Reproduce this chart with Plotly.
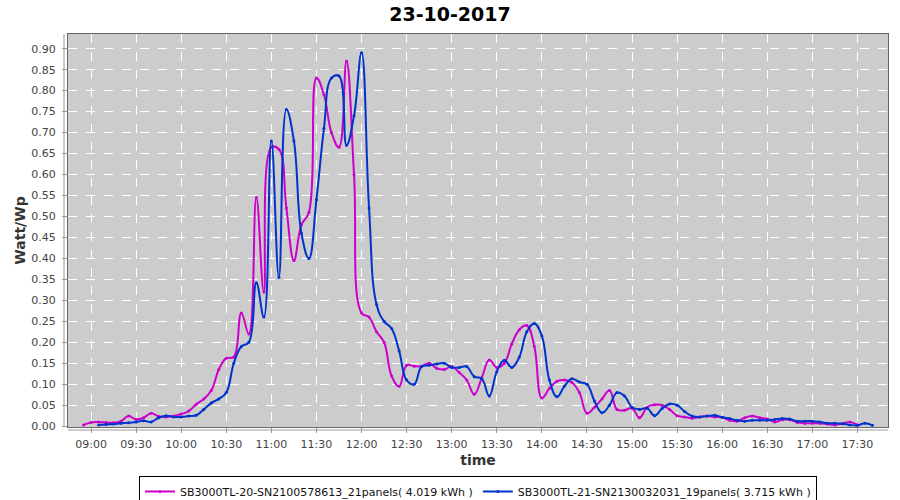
import pandas as pd
import plotly.graph_objects as go

# ---- data (Watt/Wp, 5-minute samples) ---------------------------------------
DAY = "2017-10-23"
TITLE = "23-10-2017"

NAME_A = "SB3000TL-20-SN2100578613_21panels( 4.019 kWh )"
START_A = "08:55"
VALS_A = [
    0.003, 0.009, 0.010, 0.009, 0.008, 0.012, 0.024, 0.016, 0.020, 0.031,
    0.023, 0.022, 0.024, 0.029, 0.036, 0.052, 0.065, 0.085, 0.135, 0.162,
    0.165, 0.270, 0.220, 0.545, 0.320, 0.665, 0.660, 0.520, 0.395, 0.480,
    0.510, 0.830, 0.790, 0.700, 0.665, 0.870, 0.600, 0.270, 0.260, 0.225,
    0.200, 0.120, 0.095, 0.145, 0.143, 0.143, 0.150, 0.138, 0.135, 0.142,
    0.128, 0.110, 0.076, 0.115, 0.158, 0.140, 0.150, 0.196, 0.230, 0.240,
    0.190, 0.067, 0.090, 0.107, 0.110, 0.104, 0.080, 0.031, 0.045, 0.065,
    0.085, 0.040, 0.038, 0.043, 0.020, 0.045, 0.051, 0.050, 0.040, 0.025,
    0.022, 0.019, 0.022, 0.024, 0.022, 0.021, 0.014, 0.012, 0.020, 0.024,
    0.020, 0.017, 0.010, 0.015, 0.015, 0.009, 0.007, 0.007, 0.007, 0.005,
    0.003, 0.006, 0.010, 0.003,
]

NAME_B = "SB3000TL-21-SN2130032031_19panels( 3.715 kWh )"
START_B = "09:05"
VALS_B = [
    0.003, 0.004, 0.005, 0.007, 0.008, 0.010, 0.013, 0.010, 0.020, 0.025,
    0.022, 0.022, 0.024, 0.026, 0.040, 0.055, 0.065, 0.080, 0.150, 0.190,
    0.200, 0.342, 0.260, 0.680, 0.355, 0.755, 0.680, 0.460, 0.400, 0.540,
    0.710, 0.830, 0.835, 0.670, 0.740, 0.890, 0.520, 0.290, 0.250, 0.233,
    0.180, 0.110, 0.100, 0.142, 0.145, 0.148, 0.150, 0.140, 0.140, 0.142,
    0.118, 0.113, 0.072, 0.130, 0.157, 0.140, 0.165, 0.225, 0.245, 0.215,
    0.110, 0.070, 0.095, 0.113, 0.105, 0.100, 0.060, 0.032, 0.050, 0.080,
    0.072, 0.045, 0.040, 0.043, 0.025, 0.042, 0.053, 0.050, 0.035, 0.024,
    0.022, 0.024, 0.026, 0.021, 0.018, 0.014, 0.012, 0.014, 0.014, 0.014,
    0.016, 0.018, 0.017, 0.012, 0.012, 0.012, 0.010, 0.007, 0.007, 0.006,
    0.003, 0.002, 0.007, 0.002,
]

X_RANGE = [f"{DAY} 08:44:40", f"{DAY} 17:50:20"]
Y_RANGE = [-0.002, 0.935]

# ---- style ------------------------------------------------------------------
FONT = "DejaVu Sans, Verdana, sans-serif"
MAGENTA = "#cc00cc"
BLUE = "#0033cc"
PLOT_BG = "#cccccc"
TICK = "#444444"
AXIS = "#999999"

PLOT_H = 500 - 34 - 73
PLOT_W = 900 - 68 - 12


def times(start, n):
    return pd.date_range(f"{DAY} {start}", periods=n, freq="5min")


fig = go.Figure()
for name, start, vals, color in [(NAME_A, START_A, VALS_A, MAGENTA),
                                 (NAME_B, START_B, VALS_B, BLUE)]:
    fig.add_trace(go.Scatter(
        x=times(start, len(vals)), y=vals, name=name,
        mode="lines+markers", line={"color": color, "width": 2, "shape": "spline",
                                    "smoothing": 1.2},
        marker={"color": color, "size": 3},
    ))

fig.update_layout(
    width=900, height=500,
    paper_bgcolor="white", plot_bgcolor=PLOT_BG,
    margin=dict(l=68, r=12, t=34, b=73, autoexpand=False),
    font={"family": FONT, "color": TICK, "size": 11},
    title={"text": f"<b>{TITLE}</b>", "x": 0.5, "xref": "container",
           "y": 0.972, "yanchor": "middle",
           "font": {"size": 19, "color": "black", "family": FONT}},
    legend={"orientation": "h", "x": 0.5, "xanchor": "center",
            "y": -49 / PLOT_H, "yanchor": "top",
            "bordercolor": "black", "borderwidth": 1,
            "font": {"size": 11, "color": "#111111", "family": FONT},
            "itemwidth": 30, "tracegroupgap": 0},
    showlegend=True,
    # JFreeChart-style axis lines, offset a few pixels from the plot border
    shapes=[
        dict(type="line", xref="paper", yref="paper", x0=-4 / PLOT_W, x1=-4 / PLOT_W,
             y0=0, y1=1, line={"color": AXIS, "width": 1}),
        dict(type="line", xref="paper", yref="paper", x0=0, x1=1,
             y0=-3 / PLOT_H, y1=-3 / PLOT_H, line={"color": AXIS, "width": 1}),
    ],
)

fig.update_xaxes(
    range=X_RANGE, type="date", dtick=30 * 60 * 1000,
    tick0=f"{DAY} 09:00", tickformat="%H:%M",
    showgrid=True, gridcolor="white", griddash="dash", gridwidth=1,
    ticks="outside", ticklen=5, tickcolor=AXIS, ticklabelstandoff=2,
    tickfont={"size": 11, "color": TICK},
    showline=True, linecolor="#666666", linewidth=1, mirror=True,
    zeroline=False, automargin=False,
    title={"text": "<b>time</b>", "font": {"size": 14, "color": "#333333"},
           "standoff": 4},
)
fig.update_yaxes(
    range=Y_RANGE, dtick=0.05, tick0=0, tickformat=".2f",
    showgrid=True, gridcolor="white", griddash="dash", gridwidth=1,
    ticks="outside", ticklen=5, tickcolor=AXIS, ticklabelstandoff=4,
    tickfont={"size": 11, "color": TICK},
    showline=True, linecolor="#666666", linewidth=1, mirror=True,
    zeroline=False, automargin=False,
    title={"text": "<b>Watt/Wp</b>", "font": {"size": 14, "color": "#333333"},
           "standoff": 2},
)

# the page's default 8px body margin would shift the whole chart
fig.write_html("out.html", config={"displayModeBar": False},
               post_script="document.body.style.margin = '0px';")
